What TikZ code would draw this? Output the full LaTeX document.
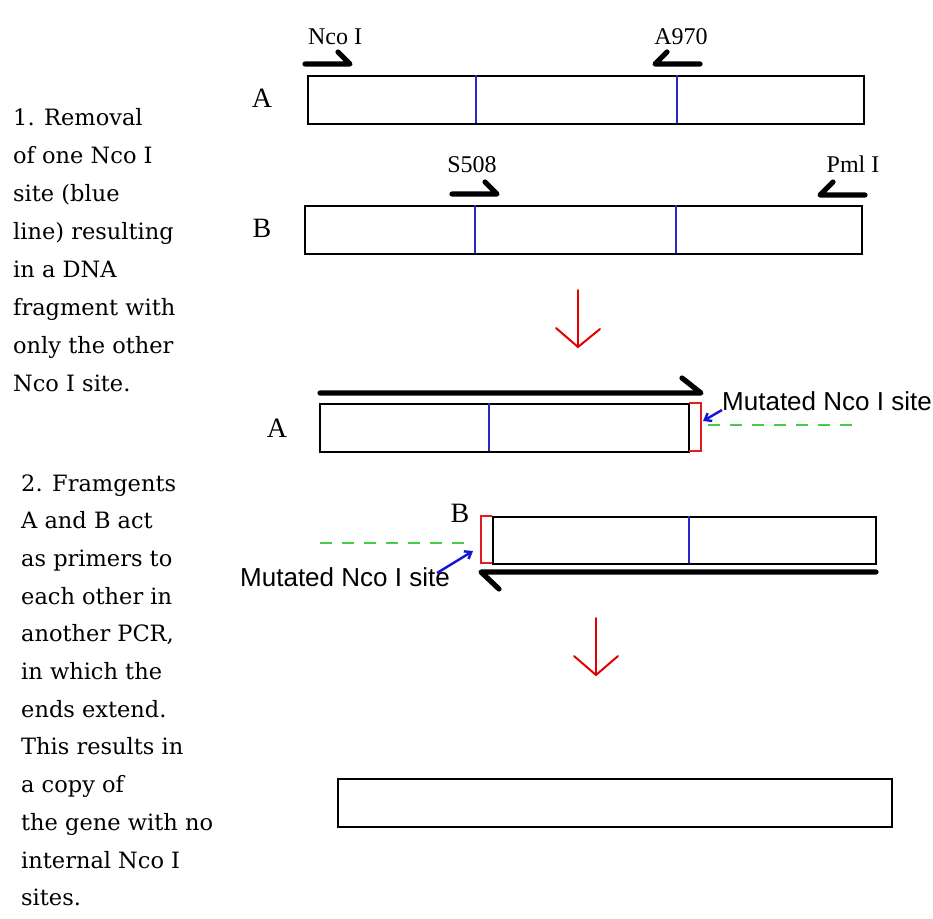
\documentclass[tikz,border=0pt]{standalone}
\usepackage{fontspec}
\setmainfont{DejaVu Serif}
\newfontfamily\labfont{Liberation Serif}
\newfontfamily\sansfont{Liberation Sans}
\usetikzlibrary{arrows.meta}
\definecolor{siteblue}{RGB}{40,40,200}
\definecolor{mutred}{RGB}{225,30,30}
\definecolor{linkgreen}{RGB}{70,205,70}
\definecolor{pointblue}{RGB}{20,20,215}
\tikzset{
  dna/.style={draw=black, line width=1.8pt, inner sep=0pt, anchor=north west},
  siteline/.style={draw=siteblue, line width=1.3pt},
  mutbox/.style={draw=mutred, line width=1.4pt},
  primer/.style={draw=black, line width=5.2pt, line join=round, line cap=round},
  downarrow/.style={draw=red!90!black, line width=2pt, line join=round, line cap=round},
  linker/.style={draw=linkgreen, line width=1.6pt, dash pattern=on 12pt off 10pt},
  pointer/.style={draw=pointblue, line width=2.4pt, -{Straight Barb[length=6pt,width=9pt]}},
  lbl/.style={font=\labfont\fontsize{24}{24}\selectfont, inner sep=0pt},
  biglbl/.style={font=\labfont\fontsize{28}{28}\selectfont, inner sep=0pt},
  mutlbl/.style={font=\sansfont\fontsize{26}{26}\selectfont, inner sep=0pt},
  desc/.style={font=\fontsize{22.5}{38}\selectfont, inner sep=0pt, anchor=base west}
}
\begin{document}
\begin{tikzpicture}[x=1pt,y=-1pt]
\useasboundingbox[fill=white] (0,0) rectangle (933,918);

% ---------- description texts ----------
\foreach \t [count=\i from 0] in {1. Removal, of one Nco I, site (blue, line) resulting, in a DNA, fragment with, only the other, Nco I site.}
  \node[desc] (da\i) at (13,125+38*\i) {\t};
\foreach \t [count=\i from 0] in {2. Framgents, A and B act, as primers to, each other in, {another PCR,}, in which the, ends extend., This results in, a copy of, the gene with no, internal Nco I, sites.}
  \node[desc] (db\i) at (21,491+37.7*\i) {\t};

% ---------- stage 1 ----------
\node[dna, minimum width=556pt, minimum height=48pt] (A1) at (307,75) {};
\draw[siteline] (476,75) -- (476,123);
\draw[siteline] (677,75) -- (677,123);
\node[biglbl] (labA1) at (262,98) {A};

\node[dna, minimum width=557pt, minimum height=48pt] (B1) at (304,205) {};
\draw[siteline] (475,205) -- (475,253);
\draw[siteline] (676,205) -- (676,253);
\node[biglbl] (labB1) at (262,228) {B};

% primers
\draw[primer] (305,64) -- (350,64) -- (338,52);
\node[lbl] (nco) at (335,37) {Nco I};
\draw[primer] (700,64) -- (655,64) -- (667,52);
\node[lbl] (a970) at (681,37) {A970};
\draw[primer] (452,194) -- (497,194) -- (485,182);
\node[lbl] (s508) at (472,165) {S508};
\draw[primer] (865,195) -- (820,195) -- (833,182);
\node[lbl] (pml) at (853,164) {Pml I};

% red arrow 1
\coordinate (r1s) at (578,290);
\coordinate (r1e) at (578,347);
\draw[downarrow] (r1s) -- (r1e);
\draw[downarrow] (556,328) -- (r1e) -- (600,329);

% ---------- stage 2 : fragment A ----------
\node[dna, minimum width=369pt, minimum height=48pt] (A2) at (319,403) {};
\draw[mutbox] (689,403) -- (701,403) -- (701,451) -- (689,451);
\draw[siteline] (489,403) -- (489,451);
\node[biglbl] (labA2) at (277,428) {A};
\draw[primer] (320,393) -- (701,393) -- (682,378);
\node[mutlbl, anchor=base west] (mutA) at (722,410) {Mutated Nco I site};
\coordinate (redA) at (703,421);
\draw[pointer] (mutA.base west) -- (redA);
\draw[linker] (708,425) -- (862,425);

% ---------- stage 2 : fragment B ----------
\node[dna, minimum width=383pt, minimum height=47pt] (B2) at (492,516) {};
\draw[mutbox] (492,516) -- (481,516) -- (481,563) -- (492,563);
\draw[siteline] (689,516) -- (689,563);
\node[biglbl] (labB2) at (460,513) {B};
\draw[primer] (876,572) -- (481,572) -- (499,589);
\node[mutlbl, anchor=base west] (mutB) at (240,586) {Mutated Nco I site};
\coordinate (redB) at (473,551);
\draw[pointer] (437,573) -- (redB);
\draw[linker] (320,543) -- (474,543);

% red arrow 2
\coordinate (r2s) at (596,618);
\coordinate (r2e) at (596,675);
\draw[downarrow] (r2s) -- (r2e);
\draw[downarrow] (574,656) -- (r2e) -- (618,656);

% ---------- result ----------
\node[dna, minimum width=554pt, minimum height=48pt] (C) at (337,778) {};
\end{tikzpicture}
\end{document}
